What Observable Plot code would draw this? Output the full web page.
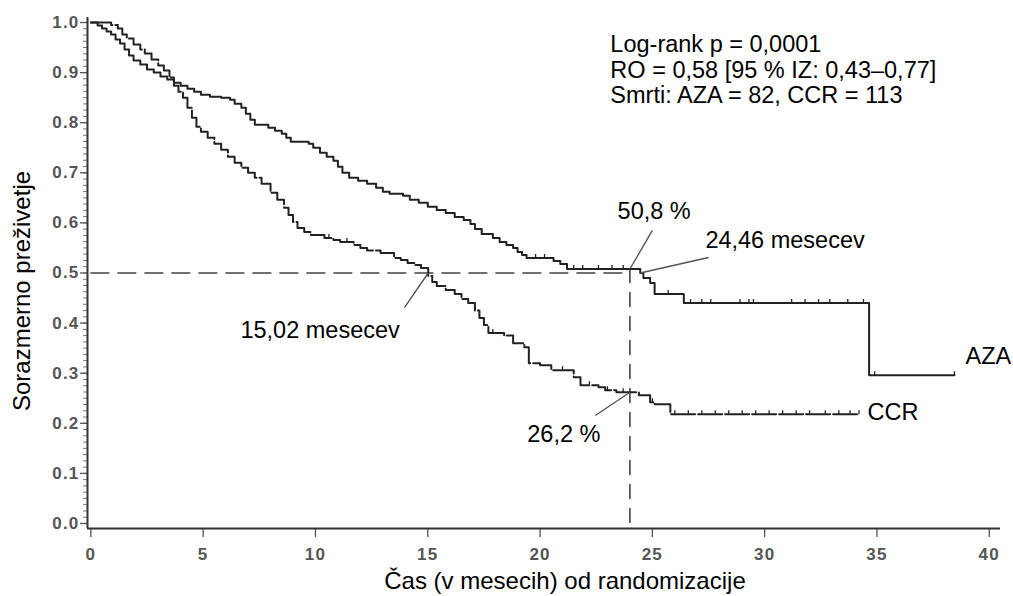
<!DOCTYPE html>
<html><head><meta charset="utf-8">
<script src="https://cdn.jsdelivr.net/npm/d3@7"></script>
<script src="https://cdn.jsdelivr.net/npm/@observablehq/plot@0.6"></script>
<style>html,body{margin:0;padding:0;background:#fff;}</style>
</head><body><div id="chart"></div>
<script>
// ---- data ----
const azaTime = [0,0.3,0.5,0.7,0.9,1.1,1.3,1.5,1.7,1.9,2.2,2.5,2.8,3.1,3.4,3.7,4.0,4.3,4.6,4.9,5.3,5.8,6.2,6.4,6.7,6.9,7.1,7.3,7.9,8.2,8.5,8.7,8.9,9.7,9.9,10.2,10.5,10.8,11.0,11.2,11.5,11.9,12.3,12.7,13.0,13.3,13.9,14.2,14.6,15.0,15.4,15.8,16.2,16.6,16.9,17.1,17.4,17.9,18.2,18.5,18.8,19.0,19.2,19.4,20.6,20.9,21.2,24.46,24.6,24.9,25.1,26.4,34.65,38.45];
const azaSurv = [1.0,0.994,0.988,0.982,0.976,0.966,0.958,0.946,0.934,0.924,0.916,0.906,0.9,0.892,0.886,0.88,0.874,0.868,0.862,0.856,0.852,0.85,0.846,0.838,0.83,0.818,0.806,0.796,0.79,0.784,0.778,0.77,0.762,0.758,0.75,0.74,0.732,0.724,0.712,0.7,0.69,0.684,0.678,0.67,0.662,0.658,0.654,0.646,0.64,0.632,0.626,0.62,0.612,0.606,0.598,0.588,0.578,0.57,0.562,0.556,0.55,0.542,0.536,0.53,0.524,0.518,0.508,0.5,0.49,0.48,0.458,0.44,0.296,0.296];
const ccrTime = [0,0.9,1.2,1.4,1.6,1.9,2.2,2.4,2.7,3.0,3.25,3.5,3.7,3.9,4.1,4.3,4.5,4.7,4.9,5.2,5.5,5.8,6.1,6.4,6.7,7.0,7.3,7.6,8.0,8.3,8.6,8.8,9.0,9.2,9.5,9.8,10.4,10.8,11.1,11.7,12.0,12.3,12.9,13.5,13.8,14.1,14.4,14.7,15.02,15.2,15.4,15.8,16.2,16.5,16.8,17.1,17.3,17.5,17.7,18.4,18.8,19.3,19.5,20.0,20.5,21.5,21.8,22.6,22.9,23.4,24.4,24.9,25.1,25.8,34.2];
const ccrSurv = [1.0,0.995,0.988,0.976,0.968,0.956,0.946,0.938,0.926,0.914,0.904,0.89,0.874,0.862,0.85,0.83,0.81,0.792,0.782,0.77,0.758,0.746,0.732,0.72,0.71,0.7,0.69,0.678,0.66,0.646,0.63,0.616,0.602,0.59,0.582,0.576,0.57,0.566,0.562,0.556,0.55,0.545,0.54,0.53,0.526,0.52,0.516,0.51,0.494,0.482,0.474,0.466,0.458,0.448,0.44,0.425,0.41,0.396,0.38,0.375,0.36,0.352,0.32,0.316,0.306,0.292,0.276,0.272,0.266,0.262,0.256,0.242,0.238,0.218,0.218];
const azaCensor = [17.4,19.8,20.2,21.5,21.9,22.6,23.2,23.7,25.7,26.7,27.2,27.6,28.9,29.3,29.5,31.2,31.8,32.4,32.9,33.7,34.4,34.9,38.45];
const ccrCensor = [10.6,11.4,17.9,21.0,22.2,23.0,23.7,25.0,26.0,26.6,27.2,27.8,28.4,29.0,29.6,30.2,30.8,31.4,32.0,32.7,33.3,33.8,34.2];
const groups = ["AZA", "CCR"];
const yTicks = [0,0.1,0.2,0.3,0.4,0.5,0.6,0.7,0.8,0.9,1.0];
const xTicks = [0,5,10,15,20,25,30,35,40];
const statsLines = ["Log-rank p = 0,0001", "RO = 0,58 [95 % IZ: 0,43–0,77]", "Smrti: AZA = 82, CCR = 113"];
const medianAZA = 24.46, medianCCR = 15.02;
const landmark = 24, landmarkAZA = 0.508, landmarkCCR = 0.262;
const xTitle = "Čas (v mesecih) od randomizacije";
const yTitle = "Sorazmerno preživetje";

// ---- build ----
const toRows = (t, s, g) => t.map((d, i) => ({t: d, s: s[i], g}));
const aza = toRows(azaTime, azaSurv, groups[0]);
const ccr = toRows(ccrTime, ccrSurv, groups[1]);
const survAt = (rows, t) => { let v = rows[0].s; for (const r of rows) { if (r.t <= t) v = r.s; } return v; };
const azaC = azaCensor.map(t => ({t, s: survAt(aza, t)}));
const ccrC = ccrCensor.map(t => ({t, s: survAt(ccr, t)}));
const minorY = d3.range(0, 1.0001, 0.0125);
const comma = (v, n) => v.toFixed(n).replace(".", ",");
const tickUp = {draw(ctx, size) { const h = Math.sqrt(size / Math.PI); ctx.moveTo(0, 0); ctx.lineTo(0, -h); }};

const font = "'Liberation Sans', Arial, Helvetica, sans-serif";
const FS = 23.5;
const ink = "#222", lead = "#555", tickInk = "#555";
const X0 = -0.15, X1 = 40.5, Y0 = -0.01, Y1 = 1.01;

const plot = Plot.plot({
  width: 1013, height: 596,
  marginLeft: 87, marginRight: 13, marginTop: 17, marginBottom: 68,
  style: {fontFamily: font, background: "#fff", overflow: "visible"},
  x: {domain: [X0, X1], axis: null},
  y: {domain: [Y0, Y1], axis: null},
  marks: [
    Plot.axisY(minorY, {tickSize: 4, tickFormat: () => "", stroke: "#777", label: null}),
    Plot.axisY(yTicks, {tickSize: 7, tickFormat: () => "", stroke: "#555", strokeWidth: 1.3, label: null}),
    Plot.axisX(xTicks, {tickSize: 9, tickFormat: () => "", stroke: "#555", strokeWidth: 1.3, label: null}),
    Plot.text(yTicks, {x: X0, y: d => d, text: d3.format(".1f"), dx: -8, textAnchor: "end", fontSize: 17, fontWeight: "bold", fill: tickInk}),
    Plot.text(xTicks, {x: d => d, y: Y0, text: d => String(d), dy: 26, lineAnchor: "middle", fontSize: 17, fontWeight: "bold", fill: tickInk}),
    Plot.ruleX([X0], {y1: Y0, y2: Y1, stroke: "#333", strokeWidth: 2}),
    Plot.ruleY([Y0], {x1: X0, x2: X1, stroke: "#333", strokeWidth: 2}),
    // reference lines
    Plot.ruleY([0.5], {x1: 0, x2: landmark, stroke: "#444", strokeWidth: 1.6, strokeDasharray: "19,8"}),
    Plot.ruleX([landmark], {y1: 0, y2: landmarkAZA, stroke: "#444", strokeWidth: 1.6, strokeDasharray: "15,9"}),
    // curves
    Plot.line(aza, {x: "t", y: "s", curve: "step-after", stroke: ink, strokeWidth: 2}),
    Plot.line(ccr, {x: "t", y: "s", curve: "step-after", stroke: ink, strokeWidth: 2, strokeDasharray: "24,3"}),
    Plot.dot(azaC, {x: "t", y: "s", symbol: tickUp, r: 4, stroke: ink, strokeWidth: 1.3, fill: "none"}),
    Plot.dot(ccrC, {x: "t", y: "s", symbol: tickUp, r: 4, stroke: ink, strokeWidth: 1.3, fill: "none"}),
    // leader lines
    Plot.link([0], {x1: 25.0, y1: 0.585, x2: landmark, y2: landmarkAZA, stroke: lead, strokeWidth: 1.4}),
    Plot.link([0], {x1: 27.5, y1: 0.531, x2: medianAZA, y2: 0.5, stroke: lead, strokeWidth: 1.4}),
    Plot.link([0], {x1: 13.96, y1: 0.431, x2: medianCCR, y2: 0.5, stroke: lead, strokeWidth: 1.4}),
    Plot.link([0], {x1: 22.46, y1: 0.2155, x2: landmark, y2: landmarkCCR, stroke: lead, strokeWidth: 1.4}),
    // annotation texts
    Plot.text([`${comma(landmarkAZA * 100, 1)} %`], {x: 23.45, y: 0.622, text: d => d, textAnchor: "start", fontSize: FS, fill: "#000"}),
    Plot.text([`${comma(medianAZA, 2)} mesecev`], {x: 27.36, y: 0.565, text: d => d, textAnchor: "start", fontSize: FS, fill: "#000"}),
    Plot.text([`${comma(medianCCR, 2)} mesecev`], {x: 6.66, y: 0.385, text: d => d, textAnchor: "start", fontSize: FS, fill: "#000"}),
    Plot.text([`${comma(landmarkCCR * 100, 1)} %`], {x: 19.43, y: 0.178, text: d => d, textAnchor: "start", fontSize: FS, fill: "#000"}),
    Plot.text([groups[0]], {x: 38.94, y: 0.333, text: d => d, textAnchor: "start", fontSize: FS, fill: "#000"}),
    Plot.text([groups[1]], {x: 34.58, y: 0.2215, text: d => d, textAnchor: "start", fontSize: FS, fill: "#000"}),
    Plot.text([statsLines.join("\n")], {x: 23.13, y: 0.977, text: d => d, lineAnchor: "top", textAnchor: "start", lineHeight: 1.085, fontSize: FS, fill: "#000"}),
    // axis titles
    Plot.text([xTitle], {frameAnchor: "bottom", dx: 21, dy: 53, lineAnchor: "middle", textAnchor: "middle", text: d => d, fontSize: 24, fill: "#000"}),
    Plot.text([yTitle], {frameAnchor: "left", dx: -65, dy: 18, rotate: -90, lineAnchor: "middle", textAnchor: "middle", text: d => d, fontSize: 24, fill: "#000"})
  ]
});
plot.querySelectorAll("text").forEach(t => {
  if (/^\d+(\.\d)?$/.test(t.textContent.trim())) {
    t.style.fontSize = "17px";
    t.style.fontWeight = "bold";
    t.style.letterSpacing = "1.2px";
  }
});
document.getElementById("chart").appendChild(plot);
</script>
</body></html>
